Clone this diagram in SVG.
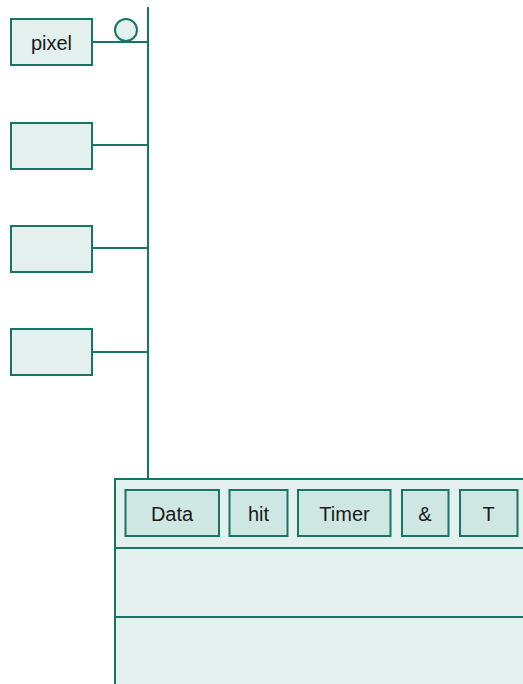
<svg xmlns="http://www.w3.org/2000/svg" width="523" height="684" viewBox="0 0 523 684">
<style>
.n{fill:#e3f0ed;stroke:#167565;stroke-width:2}
.c{fill:#cfe7e2;stroke:#167565;stroke-width:2}
.e{fill:none;stroke:#167565;stroke-width:2}
text{font-family:"Liberation Sans",Arial,sans-serif;font-size:20px;fill:#1a1a1a;text-anchor:middle}
</style>
<rect width="523" height="684" fill="#ffffff"/>
<g id="connectors">
<line class="e" x1="148" y1="7" x2="148" y2="479"/>
<line class="e" x1="92" y1="42" x2="148" y2="42"/>
<line class="e" x1="92" y1="145" x2="148" y2="145"/>
<line class="e" x1="92" y1="248" x2="148" y2="248"/>
<line class="e" x1="92" y1="352" x2="148" y2="352"/>
<circle class="n" cx="126" cy="30" r="11"/>
</g>
<g id="pixel"><rect class="n" x="11" y="19" width="81" height="46"/><text x="51.5" y="50">pixel</text></g>
<g id="node2"><rect class="n" x="11" y="123" width="81" height="46"/></g>
<g id="node3"><rect class="n" x="11" y="226" width="81" height="46"/></g>
<g id="node4"><rect class="n" x="11" y="329" width="81" height="46"/></g>
<g id="container">
<rect class="n" x="115" y="479" width="420" height="220"/>
<line class="e" x1="115" y1="548" x2="523" y2="548"/>
<line class="e" x1="115" y1="617" x2="523" y2="617"/>
</g>
<g id="data"><rect class="c" x="125.5" y="490" width="93.5" height="46"/><text x="172" y="521">Data</text></g>
<g id="hit"><rect class="c" x="229.5" y="490" width="58" height="46"/><text x="258.5" y="521">hit</text></g>
<g id="timer"><rect class="c" x="298" y="490" width="92.5" height="46"/><text x="344.5" y="521">Timer</text></g>
<g id="amp"><rect class="c" x="402" y="490" width="46.5" height="46"/><text x="425" y="521">&amp;</text></g>
<g id="t"><rect class="c" x="460" y="490" width="57.5" height="46"/><text x="488.5" y="521">T</text></g>
</svg>
